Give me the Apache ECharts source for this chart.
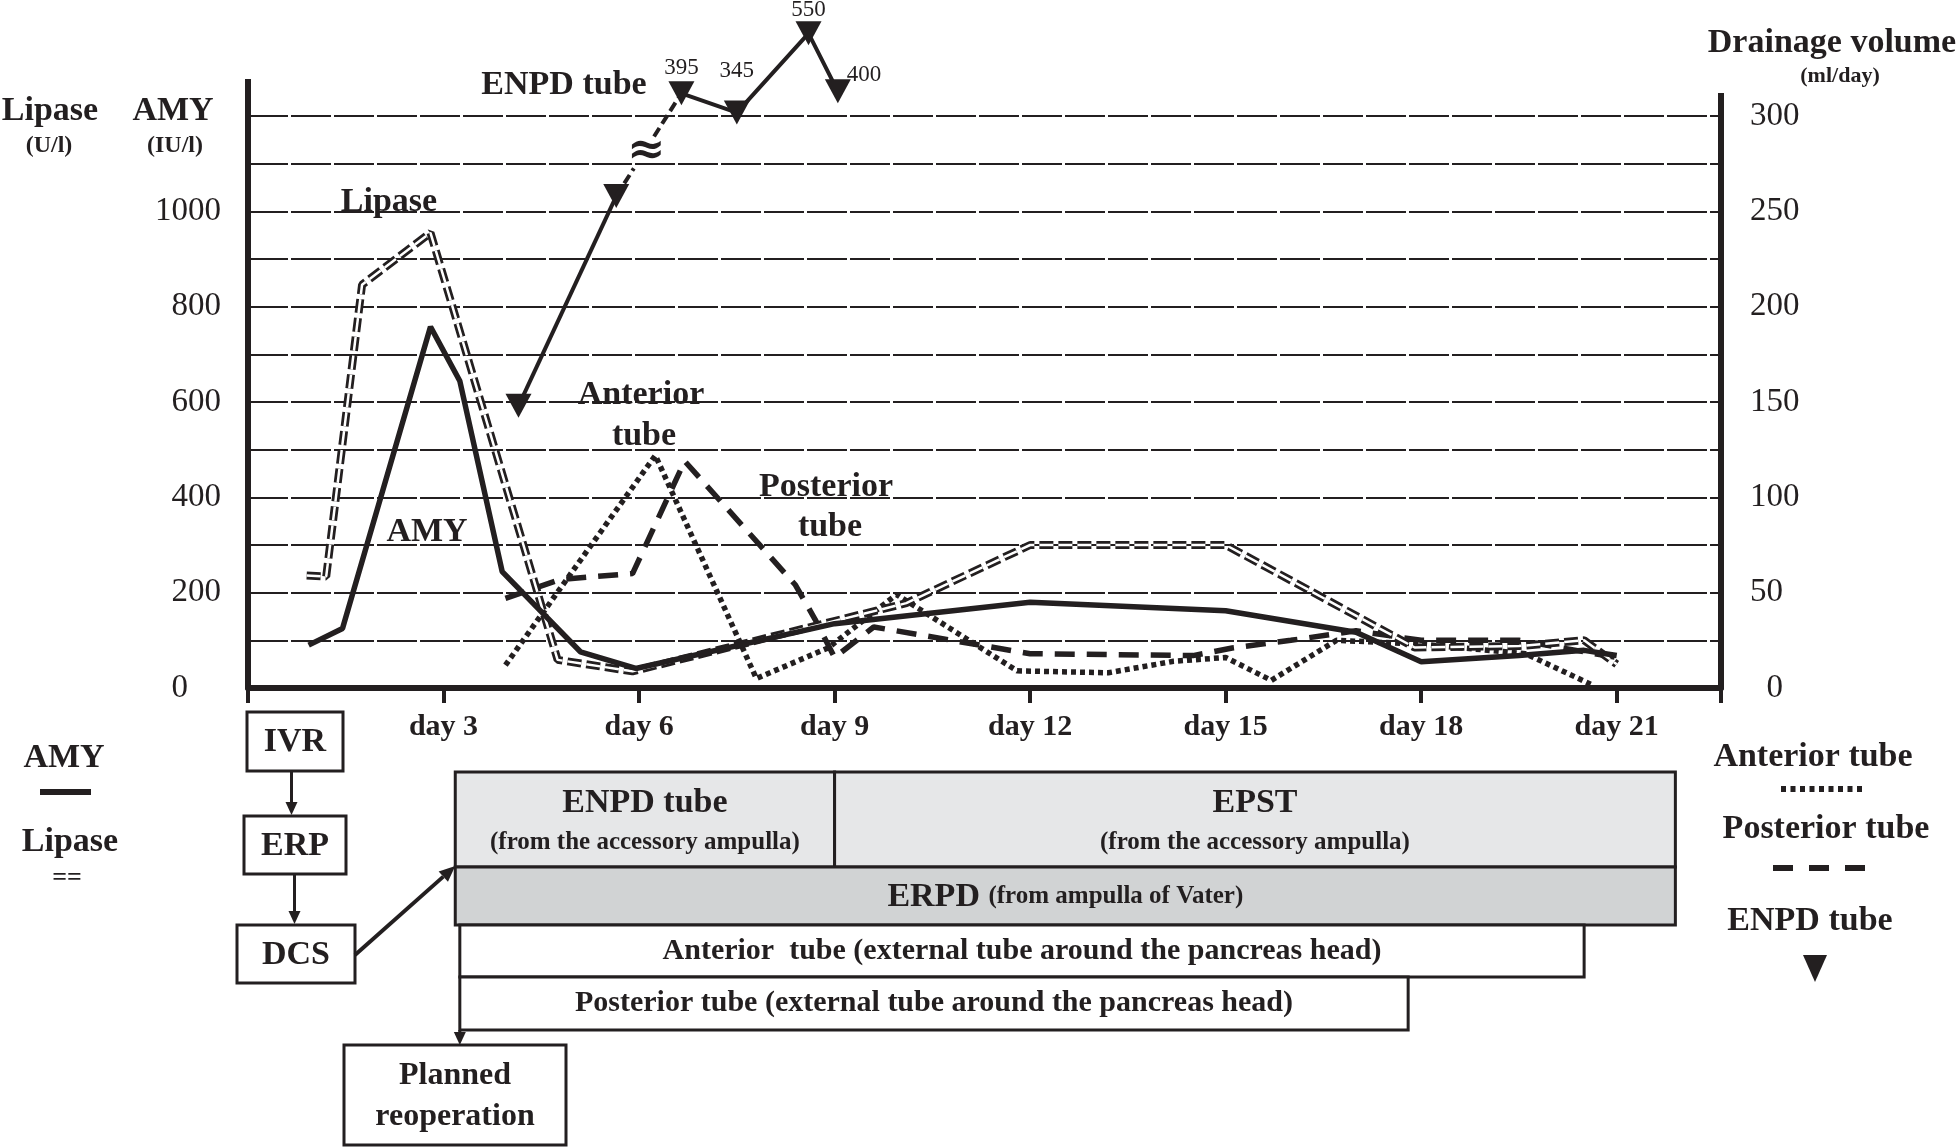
<!DOCTYPE html>
<html><head><meta charset="utf-8">
<script src="https://cdn.jsdelivr.net/npm/echarts@6/dist/echarts.min.js"></script>
<style>html,body{margin:0;padding:0;background:#fff}#c{width:1960px;height:1148px}</style>
</head><body><div id="c"></div>
<script>
// ---------- data ----------
const dayTickValues = [3, 6, 9, 12, 15, 18, 21];
const leftTickLabels = [0, 200, 400, 600, 800, 1000];
const rightTickLabels = [0, 50, 100, 150, 200, 250, 300];

const amyDays   = [0.93, 1.45, 2.8, 3.25, 3.9, 5.1, 5.95, 9.0, 12.0, 15.0, 17.0, 18.0, 19.5, 20.5, 21.0];
const amyValues = [90, 125, 758, 644, 244, 76, 41, 135, 180, 162, 117, 55, 68, 79, 68];

const lipaseDays   = [0.9, 1.2, 1.75, 2.8, 4.75, 5.9, 10.1, 12.0, 15.0, 17.9, 19.5, 20.5, 21.0];
const lipaseValues = [236, 234, 846, 955, 59, 35, 178, 300, 300, 85, 88, 100, 50];

const anteriorDays   = [3.95, 6.25, 7.8, 8.9, 9.95, 11.8, 13.2, 14.2, 15.0, 15.7, 16.7, 18.0, 19.6, 20.6];
const anteriorValues = [12, 122, 5, 21, 49, 9, 8, 14, 16, 4, 25, 23, 18, 2];

const posteriorDays   = [3.95, 4.8, 5.9, 6.7, 8.4, 8.7, 9.0, 9.6, 12.0, 14.5, 15.1, 16.0, 17.0, 18.0, 19.5, 21.0];
const posteriorValues = [47, 57, 60, 119, 54, 36, 16, 32, 18, 17, 21, 25, 30, 25, 25, 16];

const enpdDays   = [4.15, 5.65, 6.65, 7.5, 8.6, 9.05];
const enpdValues = [148, 258, 395, 345, 550, 400];

const phaseNames = ['ENPD tube', 'EPST', 'ERPD', 'Anterior  tube', 'Posterior tube'];
const phaseStart = [3.18, 9.0, 3.18, 3.25, 3.25];
const phaseEnd   = [9.0, 21.9, 21.9, 20.5, 17.8];

// ---------- helpers ----------
const INK = '#231f20';
const FAM = '"Liberation Serif", "Times New Roman", serif';
const pairs = (d, v) => d.map((x, i) => [x, v[i]]);
const F = (size, bold) => (bold ? 'bold ' : '') + size + 'px ' + FAM;

const enpdLower = [], enpdUpper = [];
enpdDays.forEach((d, i) => (enpdValues[i] <= 300 ? enpdLower : enpdUpper).push([d, enpdValues[i]]));
const upperLabelOffsets = [[0, 0], [0, -16], [0, 2], [0, 0]];

const chart = echarts.init(document.getElementById('c'), null, {renderer: 'canvas'});

const option = {
  animation: false,
  backgroundColor: '#fff',
  grid: [
    {left: 248, right: 239, top: 116, bottom: 460},
    {left: 248, right: 239, top: 14, bottom: 1018}
  ],
  xAxis: [
    {gridIndex: 0, type: 'value', min: 0, max: 22.6, interval: 3,
     axisLine: {show: true, lineStyle: {color: INK, width: 6}},
     axisTick: {show: true, inside: false, length: 15, lineStyle: {color: INK, width: 4}},
     axisLabel: {color: INK, fontFamily: FAM, fontWeight: 'bold', fontSize: 30, margin: 24,
       formatter: v => dayTickValues.indexOf(v) >= 0 ? 'day ' + v : ''},
     splitLine: {show: false}},
    {gridIndex: 1, type: 'value', min: 0, max: 22.6, show: false}
  ],
  yAxis: [
    {gridIndex: 0, type: 'value', position: 'left', min: 0, max: 1200, interval: 100,
     axisLine: {show: true, lineStyle: {color: INK, width: 6}},
     axisTick: {show: false},
     axisLabel: {color: INK, fontFamily: FAM, fontSize: 33, margin: 27,
       formatter: v => leftTickLabels.indexOf(v) >= 0 ? (v === 0 ? '0    ' : String(v)) : ''},
     splitLine: {show: true, lineStyle: {color: INK, width: 2, type: [40, 3]}}},
    {gridIndex: 0, type: 'value', position: 'right', min: 0, max: 300, interval: 25,
     axisLine: {show: true, lineStyle: {color: INK, width: 6}},
     axisTick: {show: false},
     axisLabel: {color: INK, fontFamily: FAM, fontSize: 33, margin: 29,
       formatter: v => rightTickLabels.indexOf(v) >= 0 ? (v === 0 ? '  0' : String(v)) : ''},
     splitLine: {show: false}},
    {gridIndex: 1, type: 'value', min: 300, max: 600, show: false}
  ],
  series: [
    {name: 'Anterior tube', type: 'line', xAxisIndex: 0, yAxisIndex: 1, data: pairs(anteriorDays, anteriorValues),
     symbol: 'none', z: 3, lineStyle: {color: INK, width: 5.5, type: [5, 4], cap: 'butt'}},
    {name: 'Posterior tube', type: 'line', xAxisIndex: 0, yAxisIndex: 1, data: pairs(posteriorDays, posteriorValues),
     symbol: 'none', z: 3, lineStyle: {color: INK, width: 5.5, type: [20, 12], cap: 'butt'}},
    {name: 'Lipase', type: 'line', xAxisIndex: 0, yAxisIndex: 0, data: pairs(lipaseDays, lipaseValues),
     symbol: 'none', z: 4, lineStyle: {color: INK, width: 8, type: [14, 5], cap: 'butt'}},
    {name: 'Lipase-inner', type: 'line', xAxisIndex: 0, yAxisIndex: 0, data: pairs(lipaseDays, lipaseValues),
     symbol: 'none', z: 4, silent: true, lineStyle: {color: '#fff', width: 2.5, type: [14, 5], cap: 'butt'}},
    {name: 'AMY', type: 'line', xAxisIndex: 0, yAxisIndex: 0, data: pairs(amyDays, amyValues),
     symbol: 'none', z: 5, lineStyle: {color: INK, width: 5.5}},
    {name: 'ENPD lower', type: 'line', xAxisIndex: 0, yAxisIndex: 1, data: enpdLower,
     symbol: 'triangle', symbolRotate: 180, symbolSize: [26, 24], showSymbol: true, z: 6,
     itemStyle: {color: INK}, lineStyle: {color: INK, width: 4}},
    {name: 'ENPD upper', type: 'line', xAxisIndex: 1, yAxisIndex: 2,
     data: enpdUpper.map((p, i) => ({value: p, label: {offset: upperLabelOffsets[i] || [0, 0]}})),
     symbol: 'triangle', symbolRotate: 180, symbolSize: [26, 24], showSymbol: true, z: 6, clip: false,
     itemStyle: {color: INK}, lineStyle: {color: INK, width: 4},
     label: {show: true, position: 'top', distance: 2, color: INK, fontFamily: FAM, fontSize: 23,
       formatter: p => String(p.value[1])}}
  ]
};
if (option.series[6].data.length) {
  const last = option.series[6].data[option.series[6].data.length - 1];
  last.label = {position: 'right', offset: [-6, -16]};
}
chart.setOption(option);

// ---------- annotations ----------
const G = [];
function txt(text, x, y, size, bold, align) {
  G.push({type: 'text', z: 20, style: {text, x, y, font: F(size, bold !== false), fill: INK,
    align: align || 'center', verticalAlign: 'middle'}});
}
function line(x1, y1, x2, y2, w, dash, color) {
  G.push({type: 'line', z: 15, shape: {x1, y1, x2, y2},
    style: {stroke: color || INK, lineWidth: w, lineDash: dash || null, lineCap: 'butt'}});
}
function rect(x, y, w, h, fill) {
  G.push({type: 'rect', z: 12, shape: {x, y, width: w, height: h}, style: {fill, stroke: INK, lineWidth: 3}});
}
function arrow(x1, y1, x2, y2, w, hl, hw) {
  const a = Math.atan2(y2 - y1, x2 - x1);
  const bx = x2 - hl * Math.cos(a), by = y2 - hl * Math.sin(a);
  line(x1, y1, bx, by, w);
  const nx = -Math.sin(a) * hw, ny = Math.cos(a) * hw;
  G.push({type: 'polygon', z: 16, shape: {points: [[x2, y2], [bx + nx, by + ny], [bx - nx, by - ny]]}, style: {fill: INK}});
}

const topY = chart.convertToPixel({yAxisIndex: 0}, 1200);
const leftX = chart.convertToPixel({xAxisIndex: 0}, 0);
const rightX = chart.convertToPixel({xAxisIndex: 0}, 22.6);
line(leftX, 79, leftX, topY + 1, 6);
line(rightX, 93, rightX, topY + 1, 6);

txt('Lipase', 50, 111, 34);
txt('(U/l)', 49, 146, 24);
txt('AMY', 173, 111, 34);
txt('(IU/l)', 175, 146, 24);
txt('Drainage volume', 1832, 43, 34);
txt('(ml/day)', 1840, 76, 22);

txt('ENPD tube', 564, 85, 34);
txt('Lipase', 389, 202, 34);
txt('AMY', 427, 532, 34);
txt('Anterior', 641, 395, 34);
txt('tube', 644, 436, 34);
txt('Posterior', 826, 487, 34);
txt('tube', 830, 527, 34);

const lastLow = enpdLower[enpdLower.length - 1], firstUp = enpdUpper[0];
const p1 = chart.convertToPixel({seriesIndex: 5}, lastLow);
const p2 = chart.convertToPixel({seriesIndex: 6}, firstUp);
const at = t => [p1[0] + (p2[0] - p1[0]) * t, p1[1] + (p2[1] - p1[1]) * t];
const a0 = at(0), a1 = at(0.27), b0 = at(0.58), b1 = at(1), mid = at(0.43);
line(a0[0], a0[1], a1[0], a1[1], 4, [10, 5]);
line(b0[0], b0[1], b1[0], b1[1], 4, [10, 5]);
G.push({type: 'text', z: 20, style: {text: '≈', x: mid[0] + 2, y: mid[1], font: 'bold 46px "DejaVu Serif", serif',
  fill: INK, align: 'center', verticalAlign: 'middle'}});

txt('AMY', 64, 758, 34);
line(40, 792, 91, 792, 6);
txt('Lipase', 70, 842, 34);
txt('==', 67, 878, 26);

txt('Anterior tube', 1813, 757, 34);
line(1781, 789, 1863, 789, 6, [5, 4.5]);
txt('Posterior tube', 1826, 829, 34);
line(1773, 868, 1869, 868, 6, [20, 16]);
txt('ENPD tube', 1810, 921, 34);
G.push({type: 'polygon', z: 16, shape: {points: [[1803, 955], [1827, 955], [1815, 982]]}, style: {fill: INK}});

rect(247, 712, 96, 59, '#fff');  txt('IVR', 295, 742, 34);
rect(244, 816, 102, 58, '#fff'); txt('ERP', 295, 846, 34);
rect(237, 925, 118, 58, '#fff'); txt('DCS', 296, 955, 34);
arrow(291.5, 771, 291.5, 815, 3, 13, 6);
arrow(294.5, 874, 294.5, 924, 3, 13, 6);

const sx = phaseStart.map(d => chart.convertToPixel({xAxisIndex: 0}, d));
const ex = phaseEnd.map(d => chart.convertToPixel({xAxisIndex: 0}, d));
const rowY = [772, 772, 867, 925, 977];
const rowH = [95, 95, 58, 52, 53];
const rowFill = ['#e6e7e8', '#e6e7e8', '#d1d3d4', '#fff', '#fff'];
for (let i = 0; i < phaseNames.length; i++) rect(sx[i], rowY[i], ex[i] - sx[i], rowH[i], rowFill[i]);
const cx = i => (sx[i] + ex[i]) / 2;
txt(phaseNames[0], cx(0), 803, 34);
txt('(from the accessory ampulla)', cx(0), 843, 25);
txt(phaseNames[1], cx(1), 803, 34);
txt('(from the accessory ampulla)', cx(1), 843, 25);
G.push({type: 'text', z: 20, style: {text: '{a|' + phaseNames[2] + ' }{b|(from ampulla of Vater)}',
  x: cx(2), y: 897, align: 'center', verticalAlign: 'middle',
  rich: {a: {font: F(34, true), fill: INK}, b: {font: F(25, true), fill: INK}}}});
txt(phaseNames[3] + ' (external tube around the pancreas head)', cx(3), 951, 30);
txt(phaseNames[4] + ' (external tube around the pancreas head)', cx(4), 1003, 30);

arrow(355, 955, sx[0], 866, 4, 16, 7);
arrow(sx[3], 1030, sx[3], 1045, 3, 13, 6);
rect(344, 1045, 222, 100, '#fff');
txt('Planned', 455, 1076, 32);
txt('reoperation', 455, 1117, 32);

chart.setOption({graphic: {elements: G}});
</script>
</body></html>
